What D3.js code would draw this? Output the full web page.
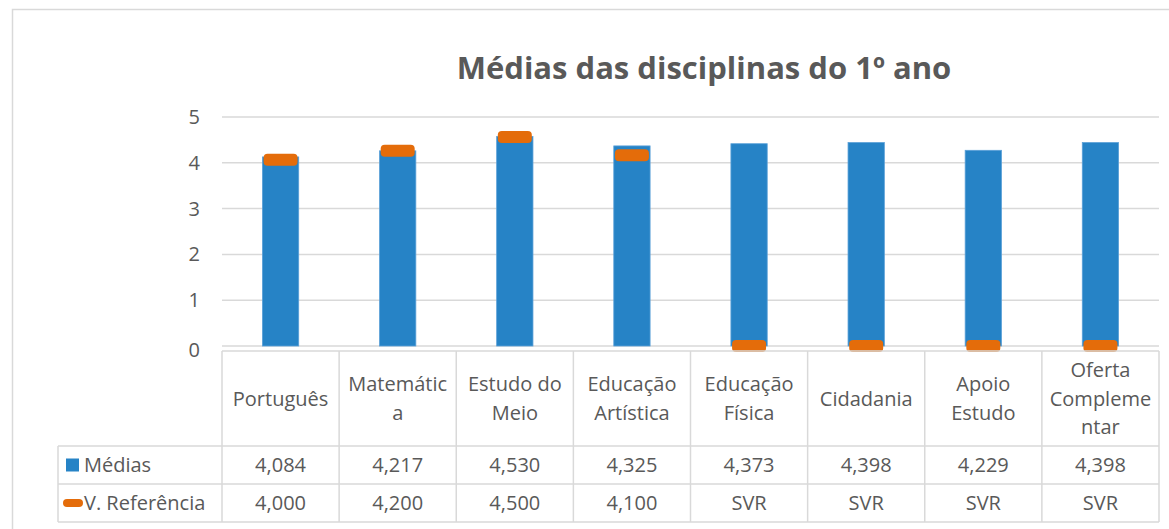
<!DOCTYPE html>
<html>
<head>
<meta charset="utf-8">
<script src="https://cdn.jsdelivr.net/npm/d3@7"></script>
<style>
  body { margin: 0; background: #fff; }
  text { font-family: "Open Sans", "Noto Sans", sans-serif; fill: #595959; }
</style>
</head>
<body>
<svg></svg>
<script>
var categories = ["Português", "Matemática", "Estudo do Meio", "Educação Artística",
                  "Educação Física", "Cidadania", "Apoio Estudo", "Oferta Complementar"];
// how Excel wrapped the labels in the table header
var categoryLines = [["Português"], ["Matemátic", "a"], ["Estudo do", "Meio"], ["Educação", "Artística"],
                     ["Educação", "Física"], ["Cidadania"], ["Apoio", "Estudo"], ["Oferta", "Compleme", "ntar"]];
var medias = [4.084, 4.217, 4.530, 4.325, 4.373, 4.398, 4.229, 4.398];
var referencia = [4.000, 4.200, 4.500, 4.100, null, null, null, null]; // null = SVR
var yTicks = [0, 1, 2, 3, 4, 5];
var seriesNames = ["Médias", "V. Referência"];

var screen = { width: 1169, height: 529 };
var blue = "#2683c6", orange = "#e46c0a", grid = "#d9d9d9";

var plot = { left: 222, right: 1159, top: 117, bottom: 346 };
var table = { top: 351, headBottom: 446, row1: 484, bottom: 522, legendLeft: 58 };
var fontSize = "20px";

var svg = d3.select("svg")
  .attr("width", screen.width)
  .attr("height", screen.height);

var fmt = d3.formatLocale({ decimal: ",", thousands: ".", grouping: [3], currency: ["", "€"] }).format(".3f");

// chart area border (runs off the right and bottom of the picture)
svg.append("rect")
  .attr("x", 12.5).attr("y", 9.5)
  .attr("width", 1200).attr("height", 600)
  .attr("fill", "none").attr("stroke", grid).attr("stroke-width", 1.5);

svg.append("text")
  .attr("x", 704).attr("y", 79)
  .attr("text-anchor", "middle")
  .style("font-size", "31px").style("font-weight", "bold")
  .text("Médias das disciplinas do 1º ano");

var colScale = d3.scaleBand().domain(categories).range([plot.left, plot.right]);
var xScale = d3.scaleBand().domain(categories).range([plot.left, plot.right])
  .paddingInner(0.69).paddingOuter(0.345);
var yScale = d3.scaleLinear().domain([0, 5]).range([plot.bottom, plot.top]);

// gridlines
svg.append("g").selectAll("line")
  .data(yTicks).enter().append("line")
  .attr("x1", plot.left).attr("x2", plot.right)
  .attr("y1", function(d) { return yScale(d); })
  .attr("y2", function(d) { return yScale(d); })
  .attr("stroke", grid).attr("stroke-width", 1.5);

svg.append("g").selectAll("text")
  .data(yTicks).enter().append("text")
  .attr("x", 200)
  .attr("y", function(d) { return yScale(d) + (d === 0 ? 4 : 0); })
  .attr("dy", "0.35em")
  .attr("text-anchor", "end")
  .style("font-size", fontSize)
  .text(function(d) { return d; });

// bars
svg.append("g").selectAll("rect")
  .data(medias).enter().append("rect")
  .attr("x", function(d, i) { return xScale(categories[i]); })
  .attr("y", function(d) { return yScale(d) - 2; })
  .attr("width", xScale.bandwidth())
  .attr("height", function(d) { return yScale(0) - yScale(d) + 2; })
  .attr("fill", blue)
  .attr("stroke", "#5aa0d8").attr("stroke-width", 0.8);

// reference markers (SVR sits on zero)
var mW = 34, mH = 12;
svg.append("g").selectAll("rect")
  .data(referencia).enter().append("rect")
  .attr("x", function(d, i) { return xScale(categories[i]) + xScale.bandwidth() / 2 - mW / 2; })
  .attr("y", function(d) { return yScale(d === null ? 0 : d) - mH / 2 - (d === null ? 0 : 3); })
  .attr("width", mW).attr("height", mH)
  .attr("rx", 4).attr("ry", 4)
  .attr("fill", orange);

// data table
var tbl = svg.append("g").attr("stroke", grid).attr("stroke-width", 1.5);
tbl.append("line").attr("x1", plot.left).attr("x2", plot.right).attr("y1", table.top).attr("y2", table.top);
[table.headBottom, table.row1, table.bottom].forEach(function(y) {
  tbl.append("line").attr("x1", table.legendLeft).attr("x2", plot.right).attr("y1", y).attr("y2", y);
});
tbl.append("line").attr("x1", table.legendLeft).attr("x2", table.legendLeft)
  .attr("y1", table.headBottom).attr("y2", table.bottom);
categories.concat([null]).forEach(function(c, i) {
  var x = i < categories.length ? colScale(c) : plot.right;
  tbl.append("line").attr("x1", x).attr("x2", x).attr("y1", table.top).attr("y2", table.bottom);
});

var lineH = 28.5;
var head = svg.append("g").selectAll("text")
  .data(categoryLines).enter().append("text")
  .attr("text-anchor", "middle")
  .style("font-size", fontSize);
head.each(function(lines, i) {
  var cx = colScale(categories[i]) + colScale.bandwidth() / 2;
  var cy = (table.top + table.headBottom) / 2 - (lines.length - 1) * lineH / 2;
  d3.select(this).selectAll("tspan")
    .data(lines).enter().append("tspan")
    .attr("x", cx)
    .attr("y", function(d, k) { return cy + k * lineH; })
    .attr("dy", "0.35em")
    .text(function(d) { return d; });
});

var rowMid = [(table.headBottom + table.row1) / 2, (table.row1 + table.bottom) / 2];
svg.append("g").selectAll("text")
  .data(medias).enter().append("text")
  .attr("x", function(d, i) { return colScale(categories[i]) + colScale.bandwidth() / 2; })
  .attr("y", rowMid[0]).attr("dy", "0.35em")
  .attr("text-anchor", "middle").style("font-size", fontSize)
  .text(function(d) { return fmt(d); });
svg.append("g").selectAll("text")
  .data(referencia).enter().append("text")
  .attr("x", function(d, i) { return colScale(categories[i]) + colScale.bandwidth() / 2; })
  .attr("y", rowMid[1]).attr("dy", "0.35em")
  .attr("text-anchor", "middle").style("font-size", fontSize)
  .text(function(d) { return d === null ? "SVR" : fmt(d); });

// legend keys in the table
var keys = svg.append("g");
keys.append("rect").attr("x", 66).attr("y", rowMid[0] - 6.5).attr("width", 13).attr("height", 13).attr("fill", blue);
keys.append("rect").attr("x", 63).attr("y", rowMid[1] - 4).attr("width", 20).attr("height", 8)
  .attr("rx", 4).attr("fill", orange);
keys.selectAll("text")
  .data(seriesNames).enter().append("text")
  .attr("x", 84)
  .attr("y", function(d, i) { return rowMid[i]; })
  .attr("dy", "0.35em")
  .style("font-size", fontSize)
  .text(function(d) { return d; });
</script>
</body>
</html>
